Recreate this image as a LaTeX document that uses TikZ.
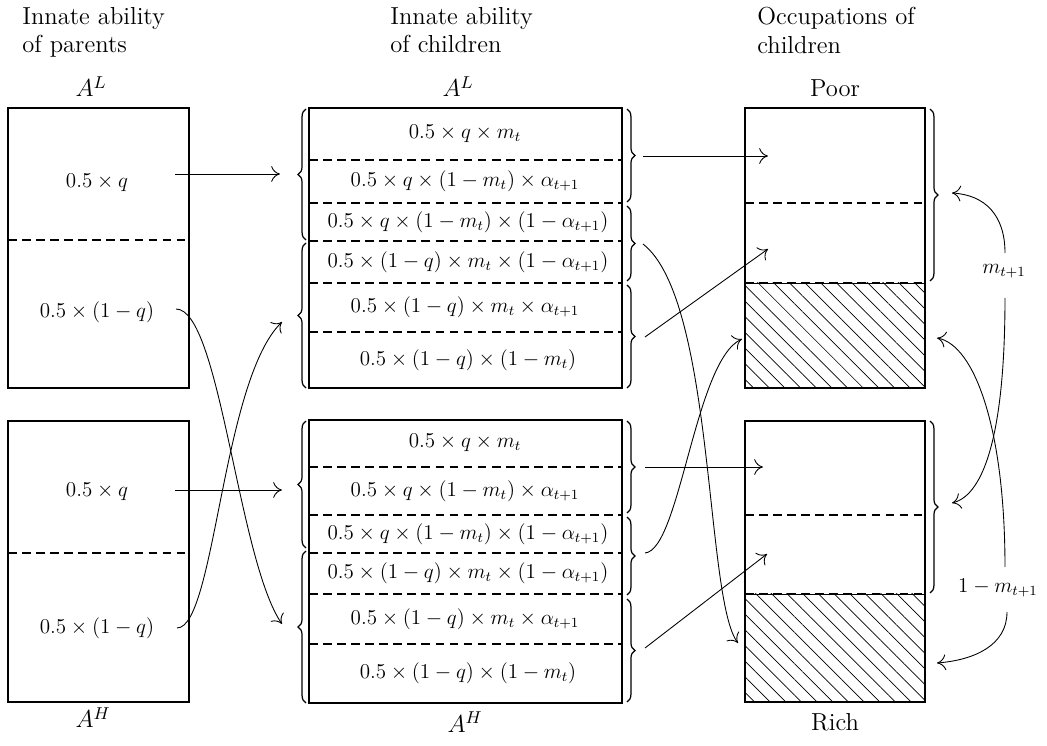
\documentclass[tikz,border=0pt]{standalone}
\usepackage{fix-cm}
\usetikzlibrary{arrows.meta,decorations.pathreplacing,patterns.meta}

\tikzset{
  panel/.style={line width=0.6pt},
  cut/.style={line width=0.6pt, dash pattern=on 5pt off 3pt},
  grp/.style={decorate, decoration={brace, amplitude=4.5pt}, line width=0.7pt},
  link/.style={line width=0.5pt, -{To[length=5pt,width=9pt]}},
  richpart/.style={pattern={Lines[angle=-45,distance=6.3pt,line width=0.4pt]}},
  cell/.style={font=\fontsize{12}{14}\selectfont},
  head/.style={font=\fontsize{14}{16.2}\selectfont},
}

\begin{document}
\begin{tikzpicture}[x=0.2mm,y=-0.2mm]
  \useasboundingbox (0,0) rectangle (1047,746);

  % headings
  \node[head, anchor=north west, align=left, inner sep=0] (hPar) at (22,7) {Innate ability\\of parents};
  \node[head, anchor=north west, align=left, inner sep=0] (hKid) at (390,7) {Innate ability\\of children};
  \node[head, anchor=north west, align=left, inner sep=0] (hOcc) at (757,7) {Occupations of\\children};
  \node[head, anchor=base] (lPL) at (91,97) {$A^L$};
  \node[head, anchor=base] (lKL) at (458,97) {$A^L$};
  \node[head, anchor=base] (lPoor) at (835,97) {Poor};
  \node[head, anchor=base] (lPH) at (93,728) {$A^H$};
  \node[head, anchor=base] (lKH) at (465,732) {$A^H$};
  \node[head, anchor=base] (lRich) at (835,730) {Rich};

  % parents
  \draw[panel] (8,108) rectangle (189,388);
  \draw[cut] (8,240) -- (189,240);
  \node[cell] (tLq) at (97,183) {$0.5\times q$};
  \node[cell] (tLr) at (97,312) {$0.5\times(1-q)$};
  \draw[panel] (8,421) rectangle (189,702);
  \draw[cut] (8,553) -- (189,553);
  \node[cell] (tHq) at (97,492) {$0.5\times q$};
  \node[cell] (tHr) at (97,628) {$0.5\times(1-q)$};

  % children of A^L parents
  \draw[panel] (309,108) rectangle (622,388);
  \draw[cut] (309,160) -- (622,160);
  \draw[cut] (309,203) -- (622,203);
  \draw[cut] (309,241) -- (622,241);
  \draw[cut] (309,283) -- (622,283);
  \draw[cut] (309,332) -- (622,332);
  \node[cell] (cL1) at (465,134) {$0.5\times q\times m_t$};
  \node[cell] (cL2) at (465,181) {$0.5\times q\times(1-m_t)\times\alpha_{t+1}$};
  \node[cell] (cL3) at (468,222) {$0.5\times q\times(1-m_t)\times(1-\alpha_{t+1})$};
  \node[cell] (cL4) at (468,262) {$0.5\times(1-q)\times m_t\times(1-\alpha_{t+1})$};
  \node[cell] (cL5) at (465,307) {$0.5\times(1-q)\times m_t\times\alpha_{t+1}$};
  \node[cell] (cL6) at (468,360) {$0.5\times(1-q)\times(1-m_t)$};
  \draw[grp] (306,240) -- (306,109);
  \draw[grp] (306,388) -- (306,243);
  \draw[grp] (627,109) -- (627,202);
  \draw[grp] (627,206) -- (627,281);
  \draw[grp] (627,285) -- (627,388);

  % children of A^H parents
  \draw[panel] (309,420) rectangle (622,703);
  \draw[cut] (309,467) -- (622,467);
  \draw[cut] (309,515) -- (622,515);
  \draw[cut] (309,553) -- (622,553);
  \draw[cut] (309,594) -- (622,594);
  \draw[cut] (309,644) -- (622,644);
  \node[cell] (cH1) at (465,443) {$0.5\times q\times m_t$};
  \node[cell] (cH2) at (465,491) {$0.5\times q\times(1-m_t)\times\alpha_{t+1}$};
  \node[cell] (cH3) at (468,534) {$0.5\times q\times(1-m_t)\times(1-\alpha_{t+1})$};
  \node[cell] (cH4) at (468,573) {$0.5\times(1-q)\times m_t\times(1-\alpha_{t+1})$};
  \node[cell] (cH5) at (465,619) {$0.5\times(1-q)\times m_t\times\alpha_{t+1}$};
  \node[cell] (cH6) at (468,673) {$0.5\times(1-q)\times(1-m_t)$};
  \draw[grp] (306,548) -- (306,421);
  \draw[grp] (306,703) -- (306,551);
  \draw[grp] (627,421) -- (627,513);
  \draw[grp] (627,517) -- (627,595);
  \draw[grp] (627,599) -- (627,702);

  % occupations
  \draw[panel] (745,108) rectangle (925,388);
  \draw[richpart] (745,283) rectangle (925,388);
  \draw[cut] (745,203) -- (925,203);
  \draw[cut] (745,283) -- (925,283);
  \draw[grp] (930,109) -- (930,281);
  \draw[panel] (745,421) rectangle (925,702);
  \draw[richpart] (745,594) rectangle (925,702);
  \draw[cut] (745,515) -- (925,515);
  \draw[cut] (745,594) -- (925,594);
  \draw[grp] (930,421) -- (930,593);
  \node[cell] (mUp) at (1004,271) {$m_{t+1}$};
  \node[cell] (mDown) at (998,588) {$1-m_{t+1}$};

  % arrow ends
  \coordinate (pLq) at (175,174);
  \coordinate (pLr) at (176,309);
  \coordinate (pHq) at (175,490);
  \coordinate (pHr) at (177,628);
  \coordinate (kLa) at (280,174);
  \coordinate (kLb) at (282,322);
  \coordinate (kHa) at (282,490);
  \coordinate (kHb) at (282,624);
  \coordinate (gL1) at (643,156);
  \coordinate (gL2) at (643,244);
  \coordinate (gL3) at (645,337);
  \coordinate (gH1) at (645,467);
  \coordinate (gH2) at (645,553);
  \coordinate (gH3) at (645,648);
  \coordinate (oP1) at (768,156);
  \coordinate (oP2) at (768,249);
  \coordinate (oP3) at (742,339);
  \coordinate (oR1) at (763,467);
  \coordinate (oR2) at (767,554);
  \coordinate (oR3) at (738,643);
  \coordinate (bP) at (952,193);
  \coordinate (bPr) at (937,338);
  \coordinate (bR) at (952,503);
  \coordinate (bRr) at (937,663);
  \coordinate (mUpT) at (1005,253);
  \coordinate (mUpB) at (1005,298);
  \coordinate (mDnT) at (1005,567);
  \coordinate (mDnB) at (1007,612);

  % parents to children
  \draw[link] (pLq) -- (kLa);
  \draw[link] (pLr) .. controls (220,309) and (238,560) .. (kHb);
  \draw[link] (pHr) .. controls (215,628) and (222,380) .. (kLb);
  \draw[link] (pHq) -- (kHa);

  % children to occupations
  \draw[link] (gL1) -- (oP1);
  \draw[link] (gL2) .. controls (715,300) and (705,600) .. (oR3);
  \draw[link] (gL3) -- (oP2);
  \draw[link] (gH1) -- (oR1);
  \draw[link] (gH2) .. controls (680,550) and (695,360) .. (oP3);
  \draw[link] (gH3) -- (oR2);

  % shares
  \draw[link] (mUpT) .. controls (1005,215) and (985,195) .. (bP);
  \draw[link] (mUpB) .. controls (1005,430) and (985,495) .. (bR);
  \draw[link] (mDnT) .. controls (1005,430) and (975,345) .. (bPr);
  \draw[link] (mDnB) .. controls (1007,645) and (975,660) .. (bRr);
\end{tikzpicture}
\end{document}
